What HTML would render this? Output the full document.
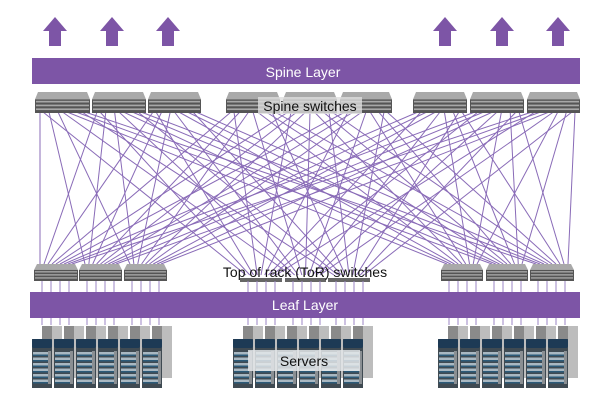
<!DOCTYPE html>
<html><head><meta charset="utf-8"><style>
html,body{margin:0;padding:0;background:#fff;}
body{width:604px;height:406px;overflow:hidden;position:relative;font-family:"Liberation Sans",sans-serif;}
svg{position:absolute;left:0;top:0;}
</style></head><body>
<svg id="s" width="604" height="406" viewBox="0 0 604 406" xmlns="http://www.w3.org/2000/svg">
<g id="lines" stroke="#7d5bb0" stroke-width="1" opacity="0.9"></g>
<g id="arrows" fill="#7d55a6"></g>
<rect x="32" y="58" width="548" height="26" fill="#7d55a6"/>
<text x="303" y="77" font-size="14" fill="#fff" text-anchor="middle" font-family="Liberation Sans, sans-serif">Spine Layer</text>
<g id="sp"></g>
<g id="lf"></g>
<rect x="30" y="292" width="550" height="26" fill="#7d55a6"/>
<text x="305" y="310" font-size="14" fill="#fff" text-anchor="middle" font-family="Liberation Sans, sans-serif">Leaf Layer</text>
<g id="sv"></g>
<rect x="258" y="97" width="104" height="17" fill="#ddd" opacity="0.8"/>
<text x="310" y="111" font-size="14" fill="#111" text-anchor="middle" font-family="Liberation Sans, sans-serif">Spine switches</text>
<text x="305" y="277" font-size="14" fill="#111" text-anchor="middle" font-family="Liberation Sans, sans-serif">Top of rack (ToR) switches</text>
<rect x="248" y="350" width="112" height="21" fill="#e4e8ea" opacity="0.85"/>
<text x="304" y="366" font-size="14" fill="#111" text-anchor="middle" font-family="Liberation Sans, sans-serif">Servers</text>
</svg>
<script>
var NS="http://www.w3.org/2000/svg";
function el(p,t,a){var e=document.createElementNS(NS,t);for(var k in a)e.setAttribute(k,a[k]);var par=document.getElementById(p);par.appendChild(e);return e;}
[55,112,168,445,502,558].forEach(function(x){el("arrows","polygon",{points:(x-12)+",31 "+x+",17 "+(x+12)+",31 "+(x+6)+",31 "+(x+6)+",46 "+(x-6)+",46 "+(x-6)+",31"});});
var spines=[[35,55],[92,54],[148,53],[226,54],[283,54],[340,52],[413,54],[470,54],[527,53]];
var leaves=[[34,44],[79,43],[124,43],[441,42],[486,42],[530,44]];
var mids=[[240,42],[285,41],[328,42]];
spines.forEach(function(s,i){
 leaves.forEach(function(l,j){
  var x1=s[0]+5+j*(s[1]-10)/5, x2=l[0]+6+i*(l[1]-12)/8;
  el("lines","line",{x1:x1,y1:112,x2:x2,y2:264});
 });
 mids.forEach(function(l,j){
  var x1=s[0]+8+j*(s[1]-16)/2, x2=l[0]+6+i*(l[1]-12)/8;
  el("lines","line",{x1:x1,y1:112,x2:x2,y2:275});
 });
});
function sw(g,x,y,w,h){
 el(g,"polygon",{points:(x+3)+","+y+" "+(x+w-3)+","+y+" "+(x+w)+","+(y+h*0.35)+" "+x+","+(y+h*0.35),fill:"#a9a9a9"});
 el(g,"rect",{x:x,y:y+h*0.35,width:w,height:h*0.65,fill:"#555"});
 for(var r=0;r<3;r++)el(g,"rect",{x:x+1,y:y+h*0.42+r*h*0.18,width:w-2,height:h*0.08,fill:"#ccc",opacity:0.7});
}
spines.forEach(function(s){sw("sp",s[0],92,s[1],21);});
leaves.forEach(function(l){sw("lf",l[0],264,l[1],17);});
mids.forEach(function(l){el("lf","rect",{x:l[0],y:278,width:l[1],height:4,fill:"#666"});});
leaves.concat(mids).forEach(function(l){for(var k=0;k<4;k++){var x=l[0]+8+k*9;el("lf","line",{x1:x,y1:281,x2:x,y2:325,stroke:"#9b86c4","stroke-width":1});}});
function rack(g,x,y,w,h,back){
 if(back){el(g,"rect",{x:x,y:y,width:w,height:h,fill:"#8a8a8a"});el(g,"rect",{x:x+w*0.5,y:y,width:w*0.5,height:h,fill:"#bdbdbd"});return;}
 el(g,"rect",{x:x,y:y,width:w,height:h,fill:"#3f4a52"});
 el(g,"rect",{x:x,y:y,width:w,height:9,fill:"#1d3a55",rx:2});
 for(var r=0;r<6;r++){el(g,"rect",{x:x+1,y:y+13+r*5.5,width:w-5,height:2.5,fill:"#a9b8c2"});el(g,"rect",{x:x+1,y:y+15.5+r*5.5,width:w-5,height:1.5,fill:"#2c5a78"});}
 el(g,"rect",{x:x+w-4,y:y+12,width:3,height:h-16,fill:"#8a8f93"});
}
[32,233,438].forEach(function(bx){
 for(var i=0;i<6;i++)rack("sv",bx+10+i*22,326,20,52,true);
 for(var i=0;i<6;i++)rack("sv",bx+i*22,339,20,49,false);
});
</script>
</body></html>
